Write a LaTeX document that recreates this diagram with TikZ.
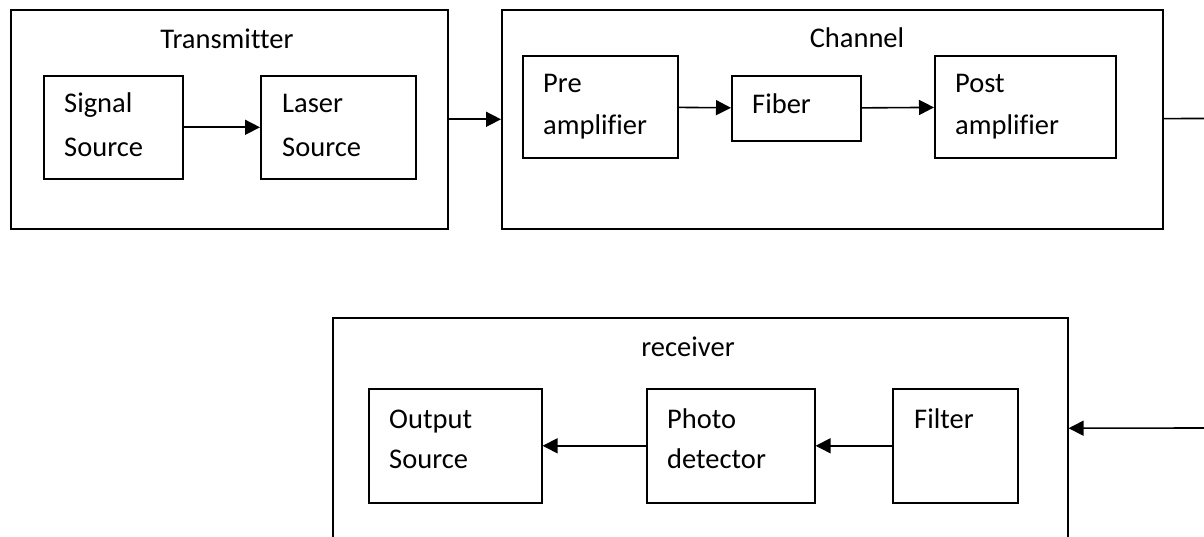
\documentclass[tikz,border=0pt]{standalone}
\usepackage{fontspec}
\setmainfont[Ligatures={NoCommon}]{Carlito}
\usetikzlibrary{arrows.meta}
\begin{document}
\begin{tikzpicture}[x=1pt,y=-1pt,
  box/.style={draw=black,line width=1.6pt,rectangle,inner sep=0pt,anchor=north west},
  txt/.style={inner sep=0pt,anchor=base west,font=\fontsize{28.5}{34}\selectfont},
  ttl/.style={inner sep=0pt,anchor=base,font=\fontsize{28.5}{34}\selectfont},
  conn/.style={line width=1.6pt},
  arr/.style={line width=1.6pt,-{Triangle[length=15pt,width=15pt]}}]
\useasboundingbox (0,0) rectangle (1204,537);
\clip (0,0) rectangle (1204,537);
% Transmitter
\node[box,minimum width=437pt,minimum height=219pt] (tx) at (10,9) {};
\node[ttl] (txt1) at (227,49) {Transmitter};
\node[box,minimum width=139pt,minimum height=103pt] (sig) at (43,75) {};
\node[txt] (sig1) at (64,113) {Signal};
\node[txt] (sig2) at (64,157) {Source};
\node[box,minimum width=155pt,minimum height=103pt] (las) at (260,75) {};
\node[txt] (las1) at (282,113) {Laser};
\node[txt] (las2) at (282,157) {Source};
% Channel
\node[box,minimum width=661pt,minimum height=219pt] (ch) at (501,9) {};
\node[ttl] (cht) at (857,48) {Channel};
\node[box,minimum width=155pt,minimum height=102pt] (pre) at (522,55) {};
\node[txt] (pre1) at (543,93) {Pre};
\node[txt] (pre2) at (543,135) {amplifier};
\node[box,minimum width=129pt,minimum height=65pt] (fib) at (731,75) {};
\node[txt] (fib1) at (752,114) {Fiber};
\node[box,minimum width=181pt,minimum height=102pt] (post) at (934,55) {};
\node[txt] (post1) at (955,93) {Post};
\node[txt] (post2) at (955,135) {amplifier};
% Receiver
\node[box,minimum width=735pt,minimum height=222pt] (rx) at (332,317) {};
\node[ttl] (rxt) at (688,356) {receiver};
\node[box,minimum width=173pt,minimum height=114pt] (out) at (368,388) {};
\node[txt] (out1) at (389,428) {Output};
\node[txt] (out2) at (389,468) {Source};
\node[box,minimum width=168pt,minimum height=114pt] (pho) at (646,388) {};
\node[txt] (pho1) at (667,428) {Photo};
\node[txt] (pho2) at (667,468) {detector};
\node[box,minimum width=125pt,minimum height=114pt] (fil) at (892,388) {};
\node[txt] (fil1) at (914,428) {Filter};
% free ends at the right edge
\coordinate (r1) at (1204,118.5);
\coordinate (r2) at (1204,428);
% connectors
\draw[arr] (sig) -- (las);
\draw[arr] (tx) -- (ch);
\draw[arr] (pre) -- (fib);
\draw[arr] (fib) -- (post);
\draw[conn] (ch) -- (r1);
\draw[arr] (r2) -- (rx);
\draw[arr] (fil) -- (pho);
\draw[arr] (pho) -- (out);
\end{tikzpicture}
\end{document}
